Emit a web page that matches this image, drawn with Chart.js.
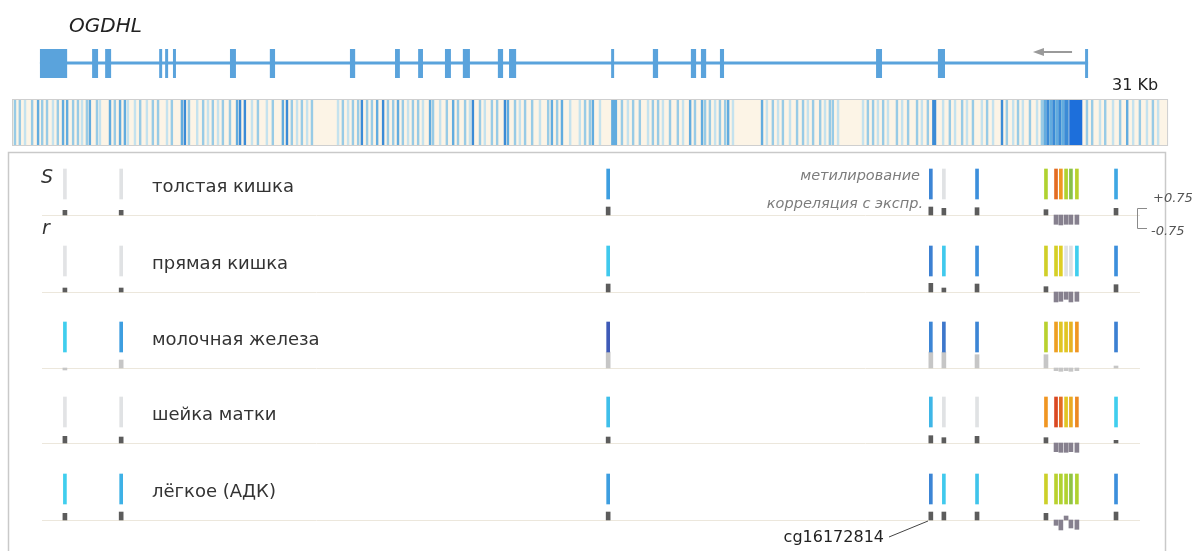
<!DOCTYPE html>
<html>
<head>
<meta charset="utf-8">
<script src="https://cdn.jsdelivr.net/npm/chart.js@4.4.1/dist/chart.umd.min.js"></script>
<style>
  html, body { margin: 0; padding: 0; background: #fff; }
  #wrap { width: 1198px; height: 551px; }
</style>
</head>
<body>
<div id="wrap"><canvas id="chart"></canvas></div>
<script>
// Gene model (positions in kb along the 31 kb window)
const GENE_START = 0.75;
const GENE_END = 28.88;
const EXONS = [
    [0.75, 1.48], [2.15, 2.31], [2.50, 2.66], [3.95, 4.03], [4.11, 4.19], [4.32, 4.40],
    [5.85, 6.01], [6.92, 7.06], [9.07, 9.21], [10.28, 10.41], [10.90, 11.03], [11.62, 11.78],
    [12.10, 12.29], [13.04, 13.18], [13.34, 13.53], [16.08, 16.16], [17.20, 17.34],
    [18.22, 18.36], [18.49, 18.63], [19.00, 19.11], [23.19, 23.35], [24.85, 25.04], [28.80, 28.88]
];
const ARROW_KB = [28.45, 27.40];

// CpG density stripes: [kb, level, width kb (optional)]
const DENSITY = [
    [0.08,2],[0.21,2],[0.35,1],[0.54,2],[0.70,3],[0.81,2],[0.94,2],[1.10,1],[1.23,2],[1.37,3],
    [1.48,3],[1.64,2],[1.77,2],[1.88,1],[2.01,2],[2.09,3],[2.28,2],[2.36,1],[2.63,3],[2.76,2],
    [2.90,3],[3.03,3],[3.11,1],[3.30,1],[3.44,2],[3.62,1],[3.78,2],[3.92,2],[4.16,1],[4.29,2],
    [4.56,3],[4.64,4],[4.75,2],[4.97,1],[5.13,2],[5.26,1],[5.39,2],[5.53,1],[5.66,2],[5.85,2],
    [6.04,3],[6.12,4],[6.25,4],[6.44,1],[6.60,2],[6.84,1],[7.00,2],[7.27,3],[7.38,4],[7.51,2],
    [7.65,1],[7.78,2],[7.92,1],[8.05,2],[8.75,1],[8.88,2],[9.02,1],[9.15,2],[9.29,2],[9.39,4],
    [9.53,2],[9.66,2],[9.80,3],[9.96,4],[10.09,2],[10.23,2],[10.36,3],[10.49,2],[10.63,1],[10.76,2],
    [10.90,2],[11.03,1],[11.22,3],[11.30,2],[11.49,1],[11.67,2],[11.84,3],[11.97,2],[12.16,2],[12.29,1],
    [12.37,4],[12.56,2],[12.69,1],[12.88,2],[13.02,2],[13.23,4],[13.31,3],[13.50,2],[13.63,1],[13.77,2],
    [13.96,2],[14.17,1],[14.39,2],[14.49,3],[14.63,2],[14.76,3],[14.98,1],[15.24,1],[15.38,2],[15.51,2],
    [15.59,3],[15.78,1],[16.16,3,0.16],[16.37,2],[16.53,1],[16.67,2],[16.85,2],[17.07,1],[17.20,2],[17.34,2],
    [17.47,1],[17.66,2],[17.87,2],[18.01,1],[18.20,3],[18.33,2],[18.52,3],[18.60,2],[18.73,2],[18.87,1],
    [19.00,2],[19.14,2],[19.22,3],[19.35,1],[20.13,3],[20.26,1],[20.42,2],[20.56,1],[20.69,2],[20.88,1],
    [21.07,2],[21.23,2],[21.36,1],[21.50,2],[21.69,2],[21.82,1],[21.95,2],[22.03,2],[22.17,1],[22.84,1],
    [22.97,2],[23.11,2],[23.24,1],[23.38,2],[23.51,1],[23.75,2],[23.89,1],[24.05,2],[24.29,2],[24.42,1],
    [24.58,2],[24.75,4,0.11],[24.99,1],[25.17,2],[25.31,1],[25.50,2],[25.63,1],[25.79,2],[26.03,1],[26.17,2],
    [26.33,1],[26.57,4],[26.70,2],[26.87,1],[27.00,2],[27.13,1],[27.32,2],[27.51,1],[27.64,2],
    [27.72,3,0.08],[27.80,4,0.08],[27.88,3,0.08],[27.96,4,0.08],[28.04,3,0.08],[28.12,4,0.08],[28.20,3,0.08],
    [28.30,4,0.12],[28.55,5,0.35],[28.85,2],[28.99,2],[29.20,1],[29.34,2],[29.55,1],[29.74,2],[29.93,3],[30.09,1],
    [30.27,2],[30.46,1],[30.62,2],[30.76,1]
];

// CpG probes shown in the tissue rows (kb)
const CPG_KB = [1.42, 2.93, 16.00, 24.66, 25.01, 25.90, 27.75, 28.02, 28.15, 28.29, 28.42, 28.58, 29.63];

const TISSUES = ["толстая кишка", "прямая кишка", "молочная железа", "шейка матки", "лёгкое (АДК)"];

// Methylation level per probe (0..1)
const METH_COLON  = [0.02, 0.03, 0.22, 0.27, 0.03, 0.25, 0.60, 0.88, 0.82, 0.60, 0.55, 0.62, 0.20];
const METH_RECTUM = [0.02, 0.03, 0.13, 0.28, 0.13, 0.25, 0.67, 0.68, 0.70, 0.03, 0.04, 0.12, 0.25];
const METH_BREAST = [0.12, 0.22, 0.36, 0.27, 0.30, 0.27, 0.62, 0.80, 0.72, 0.72, 0.76, 0.82, 0.28];
const METH_CERVIX = [0.02, 0.03, 0.15, 0.17, 0.03, 0.03, 0.82, 0.93, 0.88, 0.72, 0.78, 0.84, 0.12];
const METH_LUNG   = [0.12, 0.18, 0.22, 0.27, 0.13, 0.14, 0.66, 0.62, 0.60, 0.60, 0.56, 0.60, 0.25];

// Correlation with expression (r) per probe
const CORR_COLON  = [0.35, 0.35, 0.60, 0.60, 0.50, 0.55, 0.40, -0.70, -0.75, -0.70, -0.70, -0.70, 0.50];
const CORR_RECTUM = [0.30, 0.30, 0.60, 0.65, 0.30, 0.60, 0.40, -0.75, -0.70, -0.55, -0.75, -0.70, 0.55];
const CORR_BREAST = [-0.15, 0.60, 1.20, 1.20, 1.20, 1.00, 1.00, -0.20, -0.25, -0.20, -0.25, -0.20, 0.15];
const CORR_CERVIX = [0.50, 0.45, 0.45, 0.55, 0.40, 0.50, 0.40, -0.65, -0.70, -0.70, -0.65, -0.70, 0.20];
const CORR_LUNG   = [0.50, 0.60, 0.60, 0.60, 0.60, 0.60, 0.50, -0.40, -0.75, 0.30, -0.60, -0.70, 0.60];

// significance class of each correlation (2 strong, 1 cluster, 0 weak)
const SIG_COLON  = [2, 2, 2, 2, 2, 2, 2, 1, 1, 1, 1, 1, 2];
const SIG_RECTUM = [2, 2, 2, 2, 2, 2, 2, 1, 1, 1, 1, 1, 2];
const SIG_BREAST = [0, 0, 0, 0, 0, 0, 0, 0, 0, 0, 0, 0, 0];
const SIG_CERVIX = [2, 2, 2, 2, 2, 2, 2, 1, 1, 1, 1, 1, 2];
const SIG_LUNG   = [2, 2, 2, 2, 2, 2, 2, 1, 1, 1, 1, 1, 2];

const METH = [METH_COLON, METH_RECTUM, METH_BREAST, METH_CERVIX, METH_LUNG];
const CORR = [CORR_COLON, CORR_RECTUM, CORR_BREAST, CORR_CERVIX, CORR_LUNG];
const SIG = [SIG_COLON, SIG_RECTUM, SIG_BREAST, SIG_CERVIX, SIG_LUNG];

// layout (pixels)
const ROW_BASE = [215, 292, 368, 443, 520];
const CORR_PX = 13.3; // px per unit r
const GENE_Y = 63;
const FONT = "'DejaVu Sans', sans-serif";

const densityColors = ["#fcf4e6", "#c4e2ee", "#98cbe6", "#62acdf", "#3b8bd6", "#1d6fdb"];
const sigColors = ["#c6c6c6", "#86808e", "#5c5c5c"];

// methylation colour scale: grey -> cyan -> blue -> indigo -> green -> yellow -> orange -> red
const methStops = [
    [0.00, [230, 230, 230]],
    [0.06, [218, 222, 226]],
    [0.12, [64, 206, 238]],
    [0.25, [60, 143, 220]],
    [0.38, [62, 80, 176]],
    [0.50, [96, 176, 96]],
    [0.60, [176, 210, 48]],
    [0.70, [222, 206, 36]],
    [0.82, [240, 150, 34]],
    [0.95, [214, 58, 34]],
    [1.00, [200, 40, 30]]
];
function methColor(v) {
    for (let i = 1; i < methStops.length; i++) {
        if (v <= methStops[i][0]) {
            const [a, ca] = methStops[i - 1];
            const [b, cb] = methStops[i];
            const t = (v - a) / (b - a);
            const c = ca.map((x, k) => Math.round(x + (cb[k] - x) * t));
            return `rgb(${c[0]},${c[1]},${c[2]})`;
        }
    }
    return "rgb(200,40,30)";
}

// build datasets
const datasets = [];
TISSUES.forEach((name, i) => {
    const base = ROW_BASE[i];
    datasets.push({
        label: name,
        data: CPG_KB.map(x => ({ x: x, y: [base - 46, base - 16] })),
        backgroundColor: METH[i].map(methColor),
        barThickness: 3,
        grouped: false,
        borderWidth: 0
    });
    datasets.push({
        label: name + " r",
        data: CPG_KB.map((x, j) => ({ x: x, y: [base, base - CORR[i][j] * CORR_PX] })),
        backgroundColor: SIG[i].map(s => sigColors[s]),
        barThickness: 4,
        grouped: false,
        borderWidth: 0
    });
});

const backgroundPlugin = {
    id: "genomeTracks",
    beforeDatasetsDraw(chart) {
        const ctx = chart.ctx;
        const xs = chart.scales.x;
        const px = v => xs.getPixelForValue(v);
        ctx.save();

        // lower panel frame
        ctx.strokeStyle = "#c9c9c9";
        ctx.lineWidth = 1.5;
        ctx.strokeRect(8.5, 152.5, 1157, 420);

        // row baselines
        ctx.strokeStyle = "#ece7dc";
        ctx.lineWidth = 1;
        ROW_BASE.forEach(b => {
            ctx.beginPath();
            ctx.moveTo(42, b + 0.5);
            ctx.lineTo(1140, b + 0.5);
            ctx.stroke();
        });

        // CpG density bar
        const x0 = px(0), x1 = px(31);
        ctx.fillStyle = densityColors[0];
        ctx.fillRect(x0, 99, x1 - x0, 46);
        DENSITY.forEach(([kb, lvl, w]) => {
            const width = w || 0.065;
            const a = px(kb - width / 2), b = px(kb + width / 2);
            ctx.fillStyle = densityColors[lvl];
            ctx.fillRect(a, 99, Math.max(1, b - a), 46);
        });
        ctx.strokeStyle = "#cfcfcf";
        ctx.strokeRect(x0 + 0.5, 99.5, x1 - x0, 46);

        // gene model
        ctx.strokeStyle = "#5aa3dc";
        ctx.lineWidth = 3;
        ctx.beginPath();
        ctx.moveTo(px(GENE_START), GENE_Y);
        ctx.lineTo(px(GENE_END), GENE_Y);
        ctx.stroke();
        ctx.fillStyle = "#5aa3dc";
        EXONS.forEach(([s, e]) => {
            ctx.fillRect(px(s), 49, px(e) - px(s), 29);
        });

        // strand arrow
        const ax0 = px(ARROW_KB[0]), ax1 = px(ARROW_KB[1]);
        ctx.strokeStyle = "#9a9a9a";
        ctx.fillStyle = "#9a9a9a";
        ctx.lineWidth = 2;
        ctx.beginPath();
        ctx.moveTo(ax0, 52);
        ctx.lineTo(ax1 + 8, 52);
        ctx.stroke();
        ctx.beginPath();
        ctx.moveTo(ax1, 52);
        ctx.lineTo(ax1 + 11, 48);
        ctx.lineTo(ax1 + 11, 56);
        ctx.closePath();
        ctx.fill();

        ctx.restore();
    },
    afterDatasetsDraw(chart) {
        const ctx = chart.ctx;
        ctx.save();
        ctx.textBaseline = "middle";

        ctx.fillStyle = "#222";
        ctx.font = `italic 20px ${FONT}`;
        ctx.textAlign = "left";
        ctx.fillText("OGDHL", 69, 27);

        ctx.font = `16px ${FONT}`;
        ctx.fillStyle = "#222";
        ctx.fillText("31 Kb", 1112, 86);

        ctx.font = `18px ${FONT}`;
        ctx.fillStyle = "#333";
        TISSUES.forEach((name, i) => {
            ctx.fillText(name, 152, ROW_BASE[i] - 28);
        });

        ctx.font = `italic 19px ${FONT}`;
        ctx.fillStyle = "#333";
        ctx.fillText("S", 41, 178);
        ctx.fillText("r", 42, 229);

        ctx.font = `italic 14.5px ${FONT}`;
        ctx.fillStyle = "#7c7c7c";
        ctx.textAlign = "right";
        ctx.fillText("метилирование", 920, 176);
        ctx.fillText("корреляция с экспр.", 923, 204);

        // r scale bracket
        ctx.strokeStyle = "#8a8a8a";
        ctx.lineWidth = 1;
        ctx.beginPath();
        ctx.moveTo(1147, 208.5);
        ctx.lineTo(1137.5, 208.5);
        ctx.lineTo(1137.5, 228.5);
        ctx.lineTo(1147, 228.5);
        ctx.stroke();
        ctx.textAlign = "left";
        ctx.fillStyle = "#555";
        ctx.font = `italic 13px ${FONT}`;
        ctx.fillText("+0.75", 1153, 199);
        ctx.fillText("-0.75", 1151, 232);

        // probe callout
        ctx.font = `16px ${FONT}`;
        ctx.fillStyle = "#222";
        ctx.textAlign = "right";
        ctx.fillText("cg16172814", 884, 538);
        ctx.strokeStyle = "#444";
        ctx.beginPath();
        ctx.moveTo(889, 537);
        ctx.lineTo(928, 521);
        ctx.stroke();

        ctx.restore();
    }
};

// x: kb, chart area spans the full canvas; density bar runs 0..31 kb
const PX_PER_KB = 37.26;
new Chart(document.getElementById("chart").getContext("2d"), {
    type: "bar",
    data: { datasets: datasets },
    options: {
        responsive: true,
        maintainAspectRatio: false,
        animation: false,
        layout: { padding: 0 },
        plugins: {
            legend: { display: false },
            tooltip: { enabled: false }
        },
        scales: {
            x: {
                type: "linear",
                display: false,
                offset: false,
                min: -12 / PX_PER_KB,
                max: (1198 - 12) / PX_PER_KB
            },
            y: {
                type: "linear",
                display: false,
                reverse: true,
                min: 0,
                max: 551
            }
        }
    },
    plugins: [backgroundPlugin]
});
</script>
</body>
</html>
